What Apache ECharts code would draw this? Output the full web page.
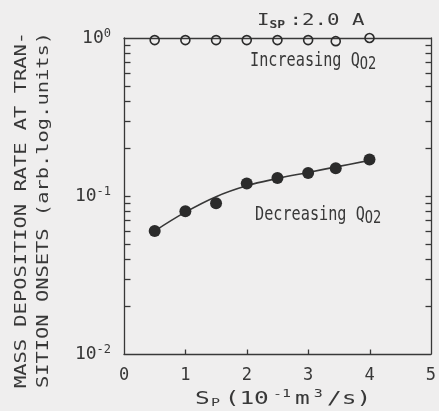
<!DOCTYPE html>
<html>
<head>
<meta charset="utf-8">
<script src="https://cdn.jsdelivr.net/npm/echarts@6/dist/echarts.min.js"></script>
<style>
  html, body { margin: 0; padding: 0; background: #efeeee; }
  #chart { width: 439px; height: 411px; }
</style>
</head>
<body>
<div id="chart"></div>
<script>
// values
const sp = [0.5, 1.0, 1.5, 2.0, 2.5, 3.0, 3.45, 4.0]
const increasingQ = [0.97, 0.97, 0.97, 0.97, 0.97, 0.97, 0.955, 1.0]
const decreasingQ = [0.06, 0.08, 0.09, 0.12, 0.13, 0.14, 0.15, 0.17]
// hand drawn fit through the decreasing points
const fitSp = [0.5, 1.0, 1.5, 2.0, 2.5, 3.0, 3.5, 4.0]
const fitRate = [0.06, 0.079, 0.099, 0.116, 0.129, 0.141, 0.154, 0.168]
// tick positions and labels
const yTicks = [0.02, 0.03, 0.04, 0.05, 0.06, 0.07, 0.08, 0.09, 0.1,
  0.2, 0.3, 0.4, 0.5, 0.6, 0.7, 0.8, 0.9]
const yLabelExp = { '0.01': '-2', '0.1': '-1', '1': '0' }
const xTicks = [1, 2, 3, 4]
const xMin = 0, xMax = 5, yMin = 0.01, yMax = 1

const ink = '#383838'
const bg = '#efeeee'
const mono = '"DejaVu Sans Mono", monospace'

const chart = echarts.init(document.getElementById('chart'))

function pairs(xs, ys) {
  return xs.map((x, i) => [x, ys[i]])
}

// inward ticks drawn through the axis scales
function tickSeries(data, dx, dy) {
  return {
    type: 'custom',
    silent: true,
    clip: false,
    data: data,
    z: 5,
    renderItem: (params, api) => {
      const p = api.coord([api.value(0), api.value(1)])
      const x = Math.round(p[0]) + 0.5
      const y = Math.round(p[1]) + 0.5
      return {
        type: 'line',
        shape: { x1: x, y1: y, x2: x + dx, y2: y + dy },
        style: { stroke: ink, lineWidth: 1.3 }
      }
    }
  }
}

function yAxisFor(pos) {
  return {
    type: 'log',
    logBase: 10,
    position: pos,
    min: yMin,
    max: yMax,
    splitLine: { show: false },
    axisLine: { show: true, onZero: false, lineStyle: { color: ink, width: 1.3 } },
    axisTick: { show: false },
    axisLabel: pos === 'left' ? {
      margin: 13,
      customValues: [0.01, 0.1, 1],
      formatter: v => '{b|10}{sup|' + yLabelExp[String(v)] + '}',
      rich: {
        b: { fontSize: 18, fontFamily: mono, color: ink, lineHeight: 20 },
        sup: { fontSize: 12, fontFamily: mono, color: ink, verticalAlign: 'top' }
      }
    } : { show: false }
  }
}

chart.setOption({
  backgroundColor: bg,
  animation: false,
  grid: { left: 124, right: 4, top: 38, bottom: 57 },
  xAxis: [{
    type: 'value',
    position: 'bottom',
    min: xMin,
    max: xMax,
    interval: 1,
    splitLine: { show: false },
    axisLine: { onZero: false, lineStyle: { color: ink, width: 1.3 } },
    axisTick: { show: false },
    axisLabel: { color: ink, fontSize: 17, fontFamily: mono, margin: 13 }
  }, {
    type: 'value',
    position: 'top',
    min: xMin,
    max: xMax,
    axisLine: { show: true, onZero: false, lineStyle: { color: ink, width: 1.3 } },
    axisTick: { show: false },
    axisLabel: { show: false },
    splitLine: { show: false }
  }],
  yAxis: [yAxisFor('left'), yAxisFor('right')],
  series: [
    tickSeries(yTicks.map(v => [xMin, v]), 6, 0),
    tickSeries(yTicks.map(v => [xMax, v]), -6, 0),
    tickSeries(xTicks.map(v => [v, yMin]), 0, -5),
  {
    name: 'fit',
    type: 'line',
    data: pairs(fitSp, fitRate),
    smooth: 0.4,
    showSymbol: false,
    lineStyle: { color: ink, width: 1.6 },
    z: 2
  }, {
    name: 'Decreasing',
    type: 'line',
    data: pairs(sp, decreasingQ),
    lineStyle: { width: 0 },
    symbol: 'circle',
    symbolSize: 12,
    itemStyle: { color: '#2b2b2b' },
    z: 3
  }, {
    name: 'Increasing',
    type: 'line',
    data: pairs(sp, increasingQ),
    lineStyle: { width: 0 },
    symbol: 'circle',
    symbolSize: 9,
    clip: false,
    itemStyle: { color: 'rgba(0,0,0,0)', borderColor: '#2b2b2b', borderWidth: 1.6 },
    z: 3
  }],
  graphic: [{
    type: 'text', x: 257, y: 12, scaleX: 1.3,
    style: {
      text: '{b|I}{sub|SP} {b|:2.0 A}',
      rich: {
        b: { fontSize: 16, fontFamily: mono, fill: ink, lineHeight: 18 },
        sub: { fontSize: 10, fontFamily: mono, fill: ink, fontWeight: 'bold', verticalAlign: 'bottom' }
      }
    }
  }, {
    type: 'text', x: 250, y: 49, scaleX: 0.76,
    style: {
      text: '{b|Increasing Q}{sub|O2}',
      rich: {
        b: { fontSize: 20, fontFamily: mono, fill: ink, lineHeight: 22 },
        sub: { fontSize: 18, fontFamily: mono, fill: ink, verticalAlign: 'bottom', padding: [6, 0, 0, 0] }
      }
    }
  }, {
    type: 'text', x: 255, y: 203, scaleX: 0.76,
    style: {
      text: '{b|Decreasing Q}{sub|O2}',
      rich: {
        b: { fontSize: 20, fontFamily: mono, fill: ink, lineHeight: 22 },
        sub: { fontSize: 18, fontFamily: mono, fill: ink, verticalAlign: 'bottom', padding: [6, 0, 0, 0] }
      }
    }
  }, {
    type: 'text', x: 195, y: 389, scaleX: 1.36,
    style: {
      text: '{b|S}{sub|P} {b|(10}{sup|-1}{b|m}{sup|3}{b|/s)}',
      rich: {
        b: { fontSize: 18, fontFamily: mono, fill: ink, lineHeight: 20 },
        sub: { fontSize: 11, fontFamily: mono, fill: ink, verticalAlign: 'bottom', padding: [5, 0, 0, 1] },
        sup: { fontSize: 11, fontFamily: mono, fill: ink, verticalAlign: 'top', padding: [0, 3, 0, 3] }
      }
    }
  }, {
    type: 'text', x: 22, y: 210, rotation: Math.PI / 2, scaleX: 1.36,
    style: {
      text: 'MASS DEPOSITION RATE AT TRAN-',
      font: '15px ' + mono, fill: ink, align: 'center', verticalAlign: 'middle'
    }
  }, {
    type: 'text', x: 44, y: 210, rotation: Math.PI / 2, scaleX: 1.36,
    style: {
      text: 'SITION ONSETS (arb.log.units)',
      font: '15px ' + mono, fill: ink, align: 'center', verticalAlign: 'middle'
    }
  }]
})
</script>
</body>
</html>
